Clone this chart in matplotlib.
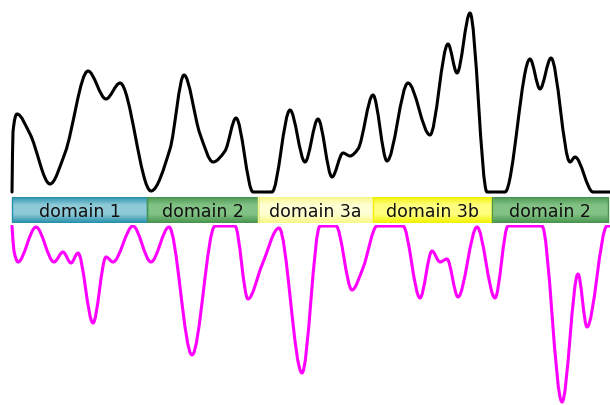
import numpy as np
import matplotlib
matplotlib.use('Agg')
import matplotlib.pyplot as plt
from matplotlib.path import Path
from matplotlib.patches import PathPatch, Rectangle
from matplotlib.colors import LinearSegmentedColormap

# --- Data: positions along the sequence and profile values ---
top_x = [0, 1, 5, 18, 38, 53, 76, 94, 108, 139, 158, 172, 188, 201, 213, 224,
         241, 250, 260, 278, 293, 306, 320, 331, 338, 346, 361, 375, 396, 418,
         436, 445, 458, 475, 484, 493, 518, 528, 539, 558, 563, 581, 598]
top_y = [0, 60, 78, 58, 8, 39, 121, 93, 109, 1, 43, 117, 58, 30, 41, 74,
         0, 0, 0, 82, 30, 73, 15, 39, 36, 43, 97, 31, 109, 57,
         148, 119, 179, 0, 0, 0, 133, 103, 134, 30, 35, 0, 0]

bot_x = [0, 2, 6, 24, 42, 51, 59, 66, 81, 94, 101, 121, 139, 157, 180,
         203, 213, 223, 236, 250, 267, 290, 308, 316, 324, 340, 351,
         365, 378, 391, 408, 420, 428, 435, 446, 465, 483, 496, 513, 530,
         550, 566, 575, 595, 598]
bot_y = [0, 25, 36, 1, 36, 26, 37, 27, 97, 31, 36, 0, 36, 1, 129,
         0, 0, 0, 73, 39, 2, 147, 0, 0, 0, 64, 42,
         0, 0, 0, 72, 25, 36, 33, 71, 1, 72, 0, 0, 0,
         176, 48, 101, 0, 0]

domain_names = ['domain 1', 'domain 2', 'domain 3a', 'domain 3b', 'domain 2']
domain_start = [0, 135, 246, 361, 480]
domain_end = [135, 246, 361, 480, 596]
domain_cols = [('#2590aa', '#8fcad8'),
               ('#48954f', '#82c285'),
               ('#f8f888', '#ffffd4'),
               ('#f2f200', '#ffff80'),
               ('#48954f', '#82c285')]


def smooth_path(x, y):
    # monotone (Fritsch-Carlson) tangents -> cubic bezier segments
    x = np.asarray(x, float); y = np.asarray(y, float)
    h = np.diff(x); d = np.diff(y) / h
    m = np.zeros_like(y)
    m[0] = d[0]; m[-1] = d[-1]
    for i in range(1, len(y) - 1):
        if d[i - 1] * d[i] <= 0:
            m[i] = 0
        else:
            w1 = 2 * h[i] + h[i - 1]; w2 = h[i] + 2 * h[i - 1]
            m[i] = (w1 + w2) / (w1 / d[i - 1] + w2 / d[i])
    verts = [(x[0], y[0])]; codes = [Path.MOVETO]
    for i in range(len(x) - 1):
        verts += [(x[i] + h[i] / 3, y[i] + m[i] * h[i] / 3),
                  (x[i + 1] - h[i] / 3, y[i + 1] - m[i + 1] * h[i] / 3),
                  (x[i + 1], y[i + 1])]
        codes += [Path.CURVE4] * 3
    return Path(verts, codes)


W, H = 610, 406
fig = plt.figure(figsize=(W / 100, H / 100), dpi=100)
xl = (-12, 598)

# --- top profile (black) ---
ax1 = fig.add_axes([0, 1 - 197 / H, 1, 197 / H])
ax1.add_patch(PathPatch(smooth_path(top_x, top_y), fill=False, ec='black', lw=2.2,
                        capstyle='round', joinstyle='round'))
ax1.set_xlim(*xl); ax1.set_ylim(-4, 193)
ax1.axis('off')

# --- domain bar ---
ax2 = fig.add_axes([0, 1 - 224 / H, 1, 26 / H])
ax2.axis('off')
for name, s, e, (dark, light) in zip(domain_names, domain_start, domain_end, domain_cols):
    cmap = LinearSegmentedColormap.from_list('g', [dark, light, light, dark])
    grad = np.linspace(0, 1, 64).reshape(-1, 1)
    ax2.imshow(grad, cmap=cmap, aspect='auto', extent=(s, e, 0, 1),
               origin='upper', interpolation='bilinear')
    ax2.add_patch(Rectangle((s, 0), e - s, 1, fill=False, ec=dark, lw=1.0))
    ax2.text((s + e) / 2, 0.46, name, ha='center', va='center', fontsize=12.5,
             color='#111111', family='DejaVu Sans')
ax2.set_xlim(*xl); ax2.set_ylim(0, 1)

# --- bottom profile (magenta, inverted) ---
ax3 = fig.add_axes([0, 0, 1, 180 / H])
ax3.add_patch(PathPatch(smooth_path(bot_x, bot_y), fill=False, ec='#ff00ff', lw=2.2,
                        capstyle='round', joinstyle='round'))
ax3.set_xlim(*xl); ax3.set_ylim(179, -1)
ax3.axis('off')

fig.savefig('out.png', dpi=100)
